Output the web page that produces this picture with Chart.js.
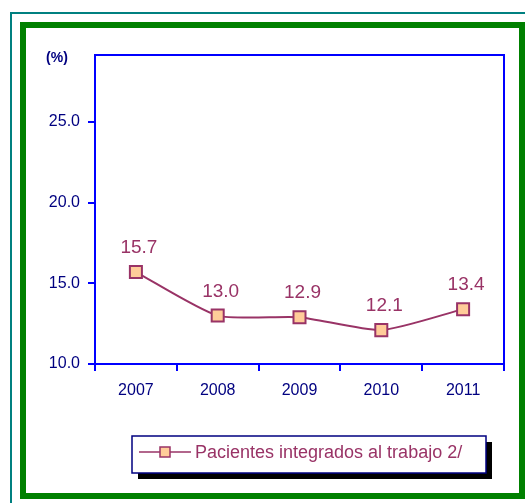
<!DOCTYPE html>
<html>
<head>
<meta charset="utf-8">
<script src="https://cdn.jsdelivr.net/npm/chart.js@4"></script>
<style>
  html, body { margin: 0; padding: 0; background: #fff; }
  #wrap { width: 525px; height: 503px; }
</style>
</head>
<body>
<div id="wrap"><canvas id="pacChart" width="525" height="503"></canvas></div>
<script>
// Pacientes integrados al trabajo (%)
const years = ["2007", "2008", "2009", "2010", "2011"];
const pacientes = [15.7, 13.0, 12.9, 12.1, 13.4];
const yTicks = [10, 15, 20, 25];
const seriesLabel = "Pacientes integrados al trabajo 2/";

const PLUM = "#993366";
const NAVY = "#000080";
const FONT = "'Liberation Sans', Arial, sans-serif";

// frames, plot border, (%) label, value labels and legend box
const decor = {
  id: "decor",
  beforeDraw(chart) {
    const c = chart.ctx;
    c.save();
    c.fillStyle = "#fff";
    c.fillRect(0, 0, chart.width, chart.height);
    c.strokeStyle = "#008080";
    c.lineWidth = 2;
    c.strokeRect(11, 13, 560, 560);
    c.strokeStyle = "#008000";
    c.lineWidth = 6;
    c.strokeRect(23, 25, 499, 471);
    c.restore();
  },
  beforeDatasetsDraw(chart) {
    const a = chart.chartArea, c = chart.ctx;
    c.save();
    c.strokeStyle = "#0000ff";
    c.lineWidth = 2;
    c.strokeRect(a.left, a.top, a.right - a.left, a.bottom - a.top);
    c.fillStyle = NAVY;
    c.font = "bold 14px " + FONT;
    c.textAlign = "center";
    c.textBaseline = "middle";
    c.fillText("(%)", 57, 58);
    c.restore();
  },
  afterDatasetsDraw(chart) {
    const c = chart.ctx;
    const meta = chart.getDatasetMeta(0);
    c.save();
    c.fillStyle = PLUM;
    c.font = "19px " + FONT;
    c.textAlign = "center";
    c.textBaseline = "alphabetic";
    meta.data.forEach((pt, i) => {
      c.fillText(pacientes[i].toFixed(1), pt.x + 3, pt.y - 19);
    });

    // legend
    const lx = 132, ly = 436, lw = 354, lh = 37;
    c.fillStyle = "#000";
    c.fillRect(lx + 6, ly + 6, lw, lh);
    c.fillStyle = "#fff";
    c.fillRect(lx, ly, lw, lh);
    c.strokeStyle = NAVY;
    c.lineWidth = 1.5;
    c.strokeRect(lx, ly, lw, lh);
    c.strokeStyle = PLUM;
    c.lineWidth = 1.5;
    c.beginPath();
    c.moveTo(139, 452);
    c.lineTo(191, 452);
    c.stroke();
    c.fillStyle = "#ffcc99";
    c.fillRect(160, 447, 10, 10);
    c.strokeRect(160, 447, 10, 10);
    c.fillStyle = PLUM;
    c.font = "18px " + FONT;
    c.textAlign = "left";
    c.textBaseline = "middle";
    c.fillText(seriesLabel, 195, 453);
    c.restore();
  }
};

new Chart(document.getElementById("pacChart"), {
  type: "line",
  data: {
    labels: years,
    datasets: [{
      label: seriesLabel,
      data: pacientes,
      borderColor: PLUM,
      borderWidth: 2,
      tension: 0.2,
      pointStyle: "rect",
      pointRadius: 8.5,
      pointBorderWidth: 2,
      pointBorderColor: PLUM,
      pointBackgroundColor: "#ffcc99"
    }]
  },
  options: {
    responsive: false,
    animation: false,
    layout: { padding: { left: 0, top: 55, right: 21, bottom: 99 } },
    plugins: {
      legend: { display: false },
      tooltip: { enabled: false }
    },
    scales: {
      x: {
        offset: true,
        afterFit: s => { s.height = 40; },
        grid: { offset: true, drawOnChartArea: false, tickLength: 7, color: "#0000ff", lineWidth: 2 },
        border: { color: "#0000ff", width: 2 },
        ticks: { color: NAVY, font: { family: FONT, size: 16 }, padding: 10 }
      },
      y: {
        min: 10,
        max: 29.15,
        afterFit: s => { s.width = 95; },
        afterBuildTicks: s => { s.ticks = yTicks.map(v => ({ value: v })); },
        grid: { drawOnChartArea: false, tickLength: 7, color: "#0000ff", lineWidth: 2 },
        border: { color: "#0000ff", width: 2 },
        ticks: {
          color: NAVY,
          font: { family: FONT, size: 16 },
          padding: 8,
          callback: v => v.toFixed(1)
        }
      }
    }
  },
  plugins: [decor]
});
</script>
</body>
</html>
